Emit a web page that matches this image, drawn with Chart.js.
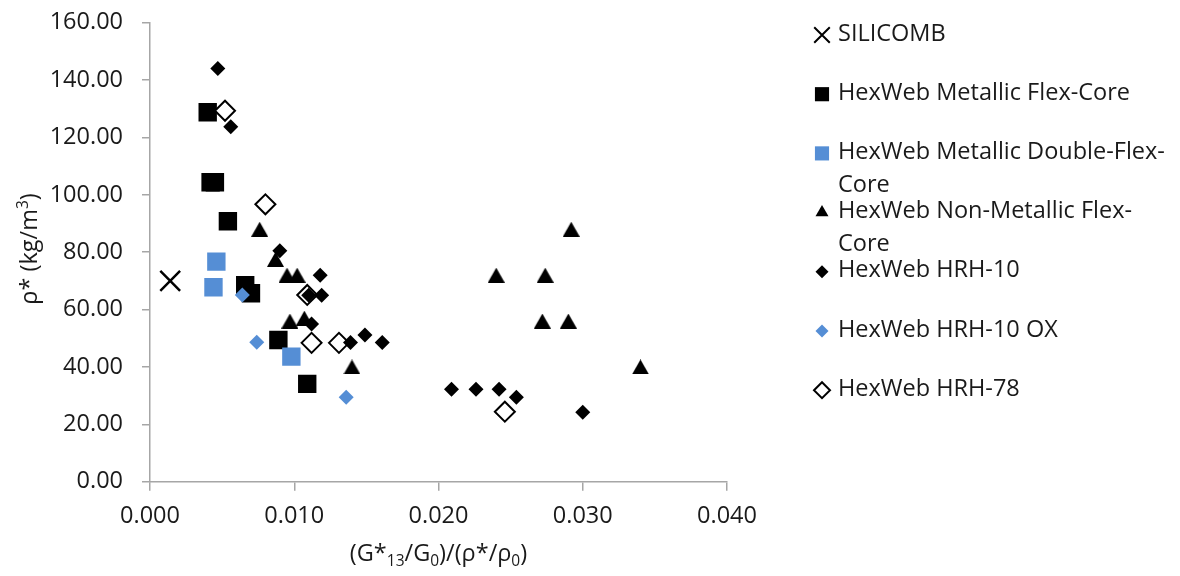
<!DOCTYPE html>
<html><head><meta charset="utf-8">
<script src="https://cdn.jsdelivr.net/npm/chart.js@4.4.1/dist/chart.umd.min.js"></script>
<style>html,body{margin:0;padding:0;background:#fff}canvas{display:block}</style>
</head><body>
<canvas id="c" width="1180" height="576"></canvas>
<script>
// ---- data ----
const seriesNames = ['SILICOMB','HexWeb Metallic Flex-Core','HexWeb Metallic Double-Flex-Core','HexWeb Non-Metallic Flex-Core','HexWeb HRH-10','HexWeb HRH-10 OX','HexWeb HRH-78'];

const silicombX = [0.0014];
const silicombY = [70];

const metalFlexX = [0.0040, 0.0042, 0.0045, 0.0054, 0.0066, 0.0070, 0.0089, 0.0109];
const metalFlexY = [128.8, 104.4, 104.4, 90.8, 68.5, 65.7, 49.4, 34.1];

const metalDoubleX = [0.0046, 0.0044, 0.0098];
const metalDoubleY = [76.7, 67.8, 43.6];

const nonMetalX = [0.0076, 0.0087, 0.0095, 0.0102, 0.0097, 0.0107, 0.0140, 0.0292, 0.0240, 0.0274, 0.0272, 0.0290, 0.0340];
const nonMetalY = [88, 77.5, 72, 72, 56, 57, 40, 88, 72, 72, 56, 56, 40];

const hrh10X = [0.0047, 0.0056, 0.0090, 0.0118, 0.0110, 0.0119, 0.0112, 0.0139, 0.0149, 0.0161, 0.0209, 0.0226, 0.0242, 0.0254, 0.0300];
const hrh10Y = [144, 123.7, 80.5, 72, 65, 65, 55, 48.5, 51.1, 48.5, 32.2, 32.2, 32.2, 29.4, 24.2];

const hrh10oxX = [0.0064, 0.0074, 0.0136];
const hrh10oxY = [65.1, 48.6, 29.4];

const hrh78X = [0.0052, 0.0080, 0.0109, 0.0112, 0.0131, 0.0246];
const hrh78Y = [129.3, 96.7, 65.1, 48.4, 48.4, 24.4];

const xTickValues = [0, 0.01, 0.02, 0.03, 0.04];
const xTickLabels = ['0.000','0.010','0.020','0.030','0.040'];
const yTickValues = [0, 20, 40, 60, 80, 100, 120, 140, 160];
const yTickLabels = ['0.00','20.00','40.00','60.00','80.00','100.00','120.00','140.00','160.00'];

// ---- styling ----
const FONT = "'Open Sans', sans-serif";
const TEXT = '#1a1a1a';
const AXIS = '#a6a6a6';
const BLUE = '#558ed5';
const FS = 23.5;

function pts(xs, ys){ return xs.map((x,i)=>({x:x, y:ys[i]})); }

// triangle marker centred on its bounding box (as in the reference)
function triangleImage(w, h, color){
  const c = document.createElement('canvas'); c.width = w; c.height = h;
  const g = c.getContext('2d'); g.fillStyle = color;
  g.beginPath(); g.moveTo(w/2, 0); g.lineTo(w, h); g.lineTo(0, h); g.closePath(); g.fill();
  return c;
}
const triImg = triangleImage(17, 15, '#000');

const datasets = [
  {label: seriesNames[0], data: pts(silicombX, silicombY), pointStyle:'crossRot', pointRadius:14, pointBorderWidth:2.5, borderColor:'#000', backgroundColor:'#000', order:7,
   lg:{style:'crossRot', r:11, bw:2, fill:'#000', stroke:'#000'}},
  {label: seriesNames[1], data: pts(metalFlexX, metalFlexY), pointStyle:'rect', pointRadius:13, pointBorderWidth:0, borderColor:'#000', backgroundColor:'#000', order:6,
   lg:{style:'rect', r:10, bw:0, fill:'#000', stroke:'#000'}},
  {label: seriesNames[2], data: pts(metalDoubleX, metalDoubleY), pointStyle:'rect', pointRadius:13, pointBorderWidth:0, borderColor:BLUE, backgroundColor:BLUE, order:5,
   lg:{style:'rect', r:10, bw:0, fill:BLUE, stroke:BLUE}},
  {label: seriesNames[3], data: pts(nonMetalX, nonMetalY), pointStyle:triImg, pointRadius:9.5, pointBorderWidth:0, borderColor:'#000', backgroundColor:'#000', order:4,
   lg:{style:'triangle', r:7.5, bw:0, fill:'#000', stroke:'#000'}},
  {label: seriesNames[4], data: pts(hrh10X, hrh10Y), pointStyle:'rectRot', pointRadius:7.5, pointBorderWidth:0, borderColor:'#000', backgroundColor:'#000', order:2,
   lg:{style:'rectRot', r:6.5, bw:0, fill:'#000', stroke:'#000'}},
  {label: seriesNames[5], data: pts(hrh10oxX, hrh10oxY), pointStyle:'rectRot', pointRadius:7.5, pointBorderWidth:0, borderColor:BLUE, backgroundColor:BLUE, order:1,
   lg:{style:'rectRot', r:6.5, bw:0, fill:BLUE, stroke:BLUE}},
  {label: seriesNames[6], data: pts(hrh78X, hrh78Y), pointStyle:'rectRot', pointRadius:10, pointBorderWidth:2, borderColor:'#000', backgroundColor:'#fff', order:3,
   lg:{style:'rectRot', r:8, bw:2, fill:'#fff', stroke:'#000'}}
];
datasets.forEach(d => { d.showLine = false; d.pointHoverRadius = d.pointRadius; });

function drawMarker(ctx, m, x, y){
  ctx.save();
  ctx.fillStyle = m.fill; ctx.strokeStyle = m.stroke; ctx.lineWidth = m.bw || 0;
  if (Chart.helpers && Chart.helpers.drawPoint) {
    Chart.helpers.drawPoint(ctx, {pointStyle:m.style, radius:m.r, rotation:0, borderWidth:m.bw}, x, y);
  }
  ctx.restore();
}

function wrapText(ctx, text, maxW){
  const tokens = text.match(/[^\s-]+-?|\s+/g) || [text];
  const lines = []; let cur = '';
  tokens.forEach(t => {
    const test = cur + t;
    if (cur && ctx.measureText(test.trimEnd()).width > maxW) { lines.push(cur.trimEnd()); cur = t.trimStart(); }
    else cur = test;
  });
  if (cur) lines.push(cur.trimEnd());
  return lines;
}

function drawRich(ctx, segs, cx, cy, rotate){
  ctx.save();
  ctx.translate(cx, cy);
  if (rotate) ctx.rotate(-Math.PI/2);
  ctx.textBaseline = 'alphabetic'; ctx.textAlign = 'left'; ctx.fillStyle = TEXT;
  let total = 0;
  segs.forEach(s => { ctx.font = (s.k ? 15.5 : FS) + 'px ' + FONT; s.w = ctx.measureText(s.t).width; total += s.w; });
  let x = -total/2;
  const base = FS*0.36;
  segs.forEach(s => {
    ctx.font = (s.k ? 15.5 : FS) + 'px ' + FONT;
    const dy = s.k === 'sub' ? 5 : (s.k === 'sup' ? -9 : 0);
    ctx.fillText(s.t, x, base + dy);
    x += s.w;
  });
  ctx.restore();
}

const xTitle = [{t:'(G*'},{t:'13',k:'sub'},{t:'/G'},{t:'0',k:'sub'},{t:')/(ρ*/ρ'},{t:'0',k:'sub'},{t:')'}];
const yTitle = [{t:'ρ* (kg/m'},{t:'3',k:'sup'},{t:')'}];

const extrasPlugin = {
  id: 'extras',
  afterDraw(chart){
    const ctx = chart.ctx;
    const a = chart.chartArea;
    drawRich(ctx, xTitle, (a.left + a.right)/2, 553, false);
    drawRich(ctx, yTitle, 29, 249, true);
    // legend
    ctx.save();
    ctx.font = FS + 'px ' + FONT; ctx.textBaseline = 'middle'; ctx.textAlign = 'left'; ctx.fillStyle = TEXT;
    let y = 34;
    chart.data.datasets.forEach(ds => {
      drawMarker(ctx, ds.lg, 822, y + 1);
      const lines = wrapText(ctx, ds.label, 338);
      ctx.fillStyle = TEXT;
      lines.forEach((ln, k) => ctx.fillText(ln, 838, y + k*33));
      y += 59.2;
    });
    ctx.restore();
  }
};

new Chart(document.getElementById('c'), {
  type: 'scatter',
  data: { datasets: datasets },
  options: {
    responsive: false, animation: false, events: [],
    layout: { padding: { left: 0, top: 22.7, right: 453, bottom: 0 } },
    plugins: { legend: { display: false }, tooltip: { enabled: false } },
    scales: {
      x: {
        type: 'linear', min: 0, max: 0.04, position: 'bottom',
        afterBuildTicks: s => { s.ticks = xTickValues.map(v => ({value: v})); },
        afterFit: s => { s.height = 94.3; s.paddingLeft = 0; s.paddingRight = 0; },
        ticks: { callback: (v) => xTickLabels[xTickValues.indexOf(v)] ?? '', font: {family: FONT, size: FS}, color: TEXT, padding: 12, maxRotation: 0, autoSkip: false },
        grid: { drawOnChartArea: false, drawTicks: true, tickLength: 9, color: AXIS, lineWidth: 1.5 },
        border: { color: AXIS, width: 1.5 }
      },
      y: {
        type: 'linear', min: 0, max: 160,
        afterBuildTicks: s => { s.ticks = yTickValues.map(v => ({value: v})); },
        afterFit: s => { s.width = 150; s.paddingTop = 0; s.paddingBottom = 0; },
        ticks: { callback: (v) => yTickLabels[yTickValues.indexOf(v)] ?? '', font: {family: FONT, size: FS}, color: TEXT, padding: 19, autoSkip: false },
        grid: { drawOnChartArea: false, drawTicks: true, tickLength: 8, color: AXIS, lineWidth: 1.5 },
        border: { color: AXIS, width: 1.5 }
      }
    }
  },
  plugins: [extrasPlugin]
});
</script>
</body></html>
